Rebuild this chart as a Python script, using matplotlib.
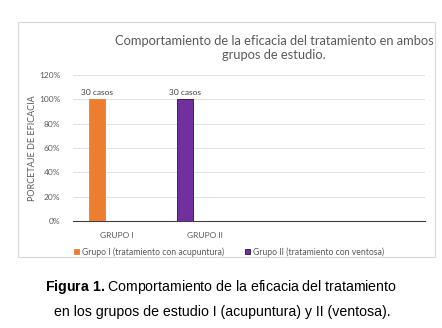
import numpy as np
import matplotlib.pyplot as plt
from matplotlib.patches import Rectangle

# datos de eficacia por grupo
categorias = ['GRUPO I', 'GRUPO II', '', '']
series = ['Grupo I (tratamiento con acupuntura)', 'Grupo II (tratamiento con ventosa)']
eficacia = [100, 100]          # porcentaje de eficacia
casos = ['30 casos', '30 casos']
colores = ['#ED7D31', '#7030A0']
bordes = ['#ED7D31', '#2a1040']

plt.rcParams['mathtext.fontset'] = 'custom'
plt.rcParams['mathtext.rm'] = 'Liberation Sans'
plt.rcParams['mathtext.bf'] = 'Liberation Sans:bold'

W, H = 442, 328
fig = plt.figure(figsize=(W / 100, H / 100), dpi=100)

# marco del gráfico
fig.patches.append(Rectangle((18 / W, 1 - 257 / H), 417 / W, 235 / H,
                             transform=fig.transFigure, fill=False,
                             edgecolor='#d9d9d9', linewidth=0.8))

ax = fig.add_axes([73 / W, 1 - 221 / H, 352 / W, 146 / H])

x = np.arange(len(categorias))
for i in range(len(series)):
    ax.bar(x[i] - 0.23, eficacia[i], width=0.18, color=colores[i],
           edgecolor=bordes[i], linewidth=0.6, label=series[i], zorder=3)
    ax.text(x[i] - 0.23, eficacia[i] + 3, casos[i], ha='center', va='bottom',
            fontsize=6, color='#404040', family='Lato')

ax.set_xlim(-0.5, len(categorias) - 0.5)
ax.set_ylim(0, 120)
ax.set_yticks(np.arange(0, 121, 20))
ax.set_yticklabels([f'{v}%' for v in range(0, 121, 20)], fontsize=6,
                   color='#595959', family='Lato')
ax.set_xticks(x)
ax.set_xticklabels(categorias, fontsize=6, color='#595959', family='Lato')
ax.tick_params(length=0, pad=8)
ax.tick_params(axis='y', pad=9)
ax.grid(axis='y', color='#d9d9d9', linewidth=0.6, zorder=0)
for s in ['top', 'right', 'left']:
    ax.spines[s].set_visible(False)
ax.spines['bottom'].set_color('#404040')
ax.spines['bottom'].set_linewidth(0.8)
ax.set_ylabel('PORCETAJE DE EFICACIA', fontsize=6.5, color='#595959',
              family='Lato')
ax.yaxis.set_label_coords(-0.102, 0.5)

fig.text(274 / W, 1 - 48 / H,
         'Comportamiento de la eficacia del tratamiento en ambos\ngrupos de estudio.',
         ha='center', va='center', fontsize=9.3, color='#595959', family='Lato',
         linespacing=1.2)

ax.legend(loc='center', bbox_to_anchor=(229 / W, 1 - 252 / H),
          bbox_transform=fig.transFigure, ncol=2, frameon=False,
          prop={'family': 'Lato', 'size': 6.2}, labelcolor='#595959',
          handlelength=0.6, handleheight=0.6, handletextpad=0.3, columnspacing=2.5)

# pie de figura
fig.text(221 / W, 1 - 287 / H, r'$\mathbf{Figura\ 1.}$Comportamiento de la eficacia del tratamiento',
         ha='center', va='center', fontsize=10.2, family='Liberation Sans')
fig.text(222 / W, 1 - 312 / H, 'en los grupos de estudio I (acupuntura) y II (ventosa).',
         ha='center', va='center', fontsize=10.2, family='Liberation Sans')

fig.savefig('out.png', dpi=100)
